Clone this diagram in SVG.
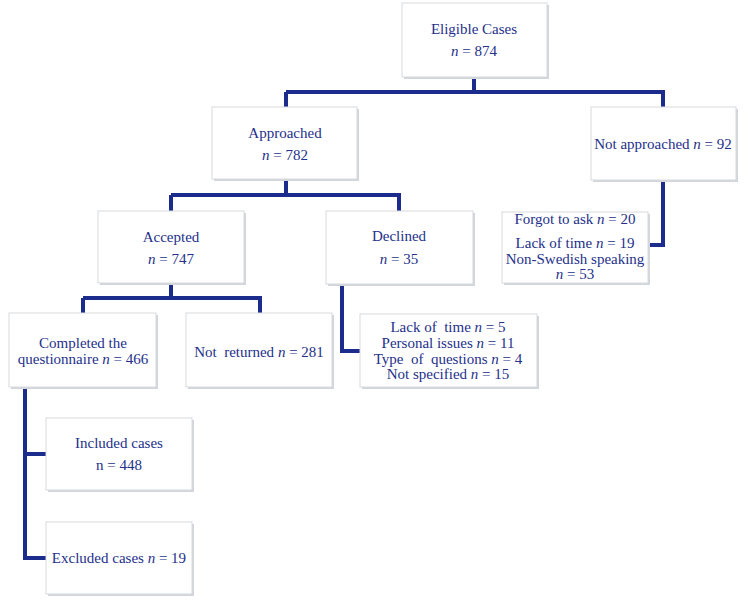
<svg xmlns="http://www.w3.org/2000/svg" width="750" height="604" viewBox="0 0 750 604">
<style>
.box{fill:#fff;stroke:#d6d9de;stroke-width:1}
.sh{fill:#d2d5da}
text{font-family:"Liberation Serif","Times New Roman",serif;font-size:15px;fill:#24308a;text-anchor:middle}
.i{font-style:italic}
.p{white-space:pre}
.c{fill:none;stroke:#1c2c8c;stroke-width:4;stroke-linejoin:miter}
</style>
<rect width="750" height="604" fill="#fff"/>
<g id="connectors">
<path class="c" d="M474 77V92M286 92H663V107M286 92V107"/>
<path class="c" d="M286 179V195M171 195H399V211M171 195V211"/>
<path class="c" d="M663 180V245H648"/>
<path class="c" d="M171 283V298M83 298H260V313M83 298V313"/>
<path class="c" d="M342 284V351H360"/>
<path class="c" d="M25 387V558H46M25 454H46"/>
</g>
<g id="eligible">
<rect class="sh" x="404" y="5" width="145" height="74"/>
<rect class="box" x="402" y="3" width="145" height="74"/>
<text x="474" y="34">Eligible Cases</text>
<text x="474" y="56"><tspan class="i">n</tspan> = 874</text>
</g>
<g id="approached">
<rect class="sh" x="214" y="109" width="145" height="72"/>
<rect class="box" x="212" y="107" width="145" height="72"/>
<text x="285" y="138">Approached</text>
<text x="285" y="160"><tspan class="i">n</tspan> = 782</text>
</g>
<g id="notapproached">
<rect class="sh" x="593" y="109" width="145" height="73"/>
<rect class="box" x="591" y="107" width="145" height="73"/>
<text x="663" y="149">Not approached <tspan class="i">n</tspan> = 92</text>
</g>
<g id="notapproached-reasons">
<rect class="sh" x="504" y="214" width="146" height="71"/>
<rect class="box" x="502" y="212" width="146" height="71"/>
<text x="575" y="224">Forgot to ask <tspan class="i">n</tspan> = 20</text>
<text x="575" y="248">Lack of time <tspan class="i">n</tspan> = 19</text>
<text x="575" y="264">Non-Swedish speaking</text>
<text x="575" y="279"><tspan class="i">n</tspan> = 53</text>
</g>
<g id="accepted">
<rect class="sh" x="100" y="213" width="146" height="72"/>
<rect class="box" x="98" y="211" width="146" height="72"/>
<text x="171" y="242">Accepted</text>
<text x="171" y="264"><tspan class="i">n</tspan> = 747</text>
</g>
<g id="declined">
<rect class="sh" x="328" y="213" width="147" height="73"/>
<rect class="box" x="326" y="211" width="147" height="73"/>
<text x="399" y="241">Declined</text>
<text x="399" y="264"><tspan class="i">n</tspan> = 35</text>
</g>
<g id="declined-reasons">
<rect class="sh" x="362" y="316" width="177" height="73"/>
<rect class="box" x="360" y="314" width="177" height="73"/>
<text class="p" x="448" y="332">Lack of  time <tspan class="i">n</tspan> = 5</text>
<text x="448" y="348">Personal issues <tspan class="i">n</tspan> = 11</text>
<text class="p" x="448" y="364">Type  of  questions <tspan class="i">n</tspan> = 4</text>
<text x="448" y="379">Not specified <tspan class="i">n</tspan> = 15</text>
</g>
<g id="completed">
<rect class="sh" x="11" y="315" width="147" height="74"/>
<rect class="box" x="9" y="313" width="147" height="74"/>
<text x="83" y="348">Completed the</text>
<text x="83" y="364">questionnaire <tspan class="i">n</tspan> = 466</text>
</g>
<g id="notreturned">
<rect class="sh" x="188" y="315" width="146" height="74"/>
<rect class="box" x="186" y="313" width="146" height="74"/>
<text class="p" x="259" y="357">Not  returned <tspan class="i">n</tspan> = 281</text>
</g>
<g id="included">
<rect class="sh" x="48" y="420" width="146" height="72"/>
<rect class="box" x="46" y="418" width="146" height="72"/>
<text x="119" y="448">Included cases</text>
<text x="119" y="470">n = 448</text>
</g>
<g id="excluded">
<rect class="sh" x="48" y="524" width="146" height="72"/>
<rect class="box" x="46" y="522" width="146" height="72"/>
<text x="119" y="563">Excluded cases <tspan class="i">n</tspan> = 19</text>
</g>
</svg>
